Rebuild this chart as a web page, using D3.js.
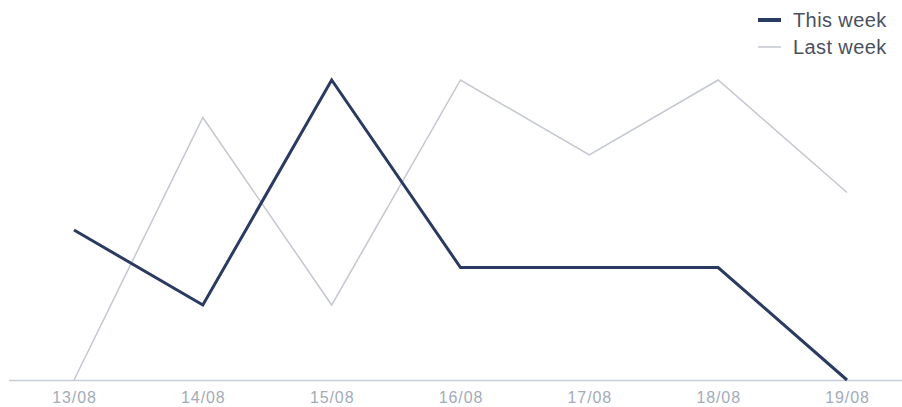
<!DOCTYPE html>
<html><head><meta charset="utf-8">
<script src="https://cdn.jsdelivr.net/npm/d3@7"></script>
<style>body{margin:0;background:#fff}svg{display:block}</style>
</head><body>
<svg id="c" width="902" height="407"></svg>
<script>
const categories = ["13/08","14/08","15/08","16/08","17/08","18/08","19/08"];
const thisWeek = [4,2,8,3,3,3,0];
const lastWeek = [0,7,2,8,6,8,5];
const seriesNames = ["This week","Last week"];

const svg = d3.select("#c");
const x = d3.scalePoint().domain(categories).range([74,847]);
const y = d3.scaleLinear().domain([0,8]).range([380,80]);

svg.append("line").attr("x1",9).attr("x2",902).attr("y1",380.5).attr("y2",380.5)
  .attr("stroke","#c8ccd4").attr("stroke-width",1.5);

const axis = d3.axisBottom(x).tickSize(0).tickPadding(0);
const ag = svg.append("g").attr("transform","translate(0,380)").call(axis);
ag.select(".domain").remove();
ag.selectAll("text").attr("y",22.5).attr("dy",null).attr("fill","#a3abb9")
  .style("font-family","'Liberation Sans', Arial, sans-serif").style("font-size","16px")
  .style("letter-spacing","0.9px");

const line = d3.line().x((d,i)=>x(categories[i])).y(d=>y(d));
svg.append("path").datum(lastWeek).attr("d",line).attr("fill","none")
  .attr("stroke","#c3c7d0").attr("stroke-width",1.5);
svg.append("path").datum(thisWeek).attr("d",line).attr("fill","none")
  .attr("stroke","#2b3a60").attr("stroke-width",3).attr("stroke-linejoin","miter");

const leg = svg.append("g");
const styles = [{c:"#2b3a60",w:4},{c:"#c3c7d0",w:1.5}];
seriesNames.forEach((n,i)=>{
  const yy = 20 + i*27;
  leg.append("line").attr("x1",758).attr("x2",781).attr("y1",yy).attr("y2",yy)
    .attr("stroke",styles[i].c).attr("stroke-width",styles[i].w);
  leg.append("text").attr("x",793).attr("y",yy+7)
    .attr("fill","#4a505e").style("font-family","'Liberation Sans', Arial, sans-serif").style("font-size","20px")
    .style("letter-spacing","0.4px")
    .text(n);
});
</script>
</body></html>
